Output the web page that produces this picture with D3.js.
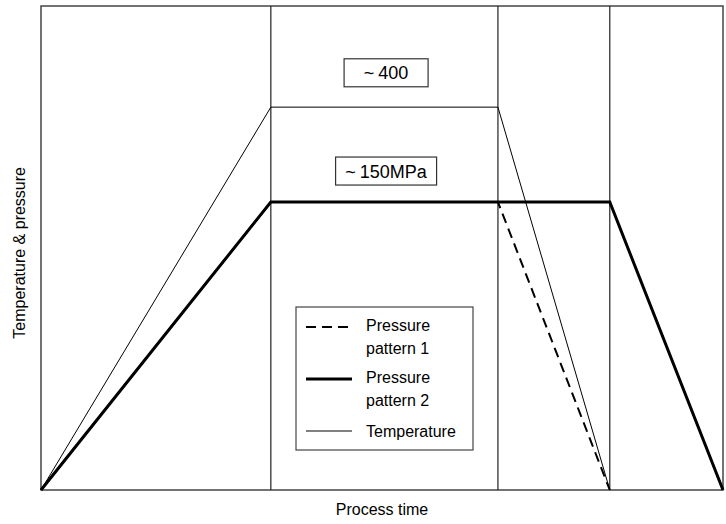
<!DOCTYPE html>
<html>
<head>
<meta charset="utf-8">
<script src="https://cdnjs.cloudflare.com/ajax/libs/d3/7.8.5/d3.min.js"></script>
<style>
  body { margin: 0; background: #fff; }
  text { font-family: Arial, "Liberation Sans", sans-serif; fill: #000; }
</style>
</head>
<body>
<script>
// Process time breakpoints (arbitrary units) and phase boundaries
var phaseBounds = [33.7, 67.0, 83.4];

// Series, as [time, level] (level in % of full height)
var temperature = [[0, 0], [33.7, 79.1], [67.0, 79.1], [83.4, 0]];
var pressure1 = [[0, 0], [33.7, 59.5], [67.0, 59.5], [83.4, 0]];
var pressure2 = [[0, 0], [33.7, 59.5], [83.4, 59.5], [100, 0]];

// Annotation boxes: text, time centre, level centre
var notes = [
    { text: "400", t: 50.6, v: 86.2, w: 84 },
    { text: "150MPa", t: 50.6, v: 65.9, w: 101 }
];

var legendItems = [
    { lines: ["Pressure", "pattern 1"], dash: "10,6", width: 2 },
    { lines: ["Pressure", "pattern 2"], dash: null, width: 3 },
    { lines: ["Temperature"], dash: null, width: 1 }
];

var width = 726, height = 524;
var plotLeft = 41, plotRight = 723, plotTop = 6, plotBottom = 490;

var xScale = d3.scaleLinear().domain([0, 100]).range([plotLeft, plotRight]);
var yScale = d3.scaleLinear().domain([0, 100]).range([plotBottom, plotTop]);

var svg = d3.select("body").append("svg")
    .attr("width", width)
    .attr("height", height);

// frame
svg.append("rect")
    .attr("x", plotLeft).attr("y", plotTop)
    .attr("width", plotRight - plotLeft).attr("height", plotBottom - plotTop)
    .attr("fill", "none").attr("stroke", "#444").attr("stroke-width", 1.5);

// phase lines
svg.selectAll("line.phase").data(phaseBounds).enter()
    .append("line")
    .attr("class", "phase")
    .attr("x1", function (d) { return xScale(d); })
    .attr("x2", function (d) { return xScale(d); })
    .attr("y1", plotTop).attr("y2", plotBottom)
    .attr("stroke", "#222").attr("stroke-width", 1.2);

var line = d3.line()
    .x(function (d) { return xScale(d[0]); })
    .y(function (d) { return yScale(d[1]); });

svg.append("path").datum(temperature)
    .attr("d", line).attr("fill", "none")
    .attr("stroke", "#000").attr("stroke-width", 1);

svg.append("path").datum(pressure2)
    .attr("d", line).attr("fill", "none")
    .attr("stroke", "#000").attr("stroke-width", 3)
    .attr("stroke-linejoin", "miter");

svg.append("path").datum(pressure1)
    .attr("d", line).attr("fill", "none")
    .attr("stroke", "#000").attr("stroke-width", 2)
    .attr("stroke-dasharray", "10,6");

// annotation boxes
var note = svg.selectAll("g.note").data(notes).enter()
    .append("g").attr("class", "note")
    .attr("transform", function (d) {
        return "translate(" + xScale(d.t) + "," + yScale(d.v) + ")";
    });

note.append("rect")
    .attr("x", function (d) { return -d.w / 2; })
    .attr("y", -14)
    .attr("width", function (d) { return d.w; })
    .attr("height", 28)
    .attr("fill", "#fff").attr("stroke", "#333").attr("stroke-width", 1.2);

var noteText = note.append("text")
    .attr("text-anchor", "middle")
    .attr("y", 6.5)
    .style("font-size", "18px");
noteText.append("tspan").text("~");
noteText.append("tspan").attr("dx", 4).text(function (d) { return d.text; });

// legend
var legend = svg.append("g").attr("transform", "translate(296,307)");
legend.append("rect")
    .attr("width", 177).attr("height", 143)
    .attr("fill", "#fff").attr("stroke", "#444").attr("stroke-width", 1.2);

var legendTop = [20, 72, 124];
legendItems.forEach(function (item, i) {
    var y0 = legendTop[i];
    legend.append("line")
        .attr("x1", 10).attr("x2", 56)
        .attr("y1", y0).attr("y2", y0)
        .attr("stroke", "#000")
        .attr("stroke-width", item.width)
        .attr("stroke-dasharray", item.dash);
    item.lines.forEach(function (t, j) {
        legend.append("text")
            .attr("x", 70)
            .attr("y", y0 + 4 + (item.lines.length > 1 ? j * 23 : 2))
            .style("font-size", "16px")
            .text(t);
    });
});

// axis titles
svg.append("text")
    .attr("x", xScale(50)).attr("y", 515)
    .attr("text-anchor", "middle")
    .style("font-size", "16px")
    .text("Process time");

svg.append("text")
    .attr("transform", "translate(25," + yScale(49) + ") rotate(-90)")
    .attr("text-anchor", "middle")
    .style("font-size", "16px")
    .text("Temperature & pressure");
</script>
</body>
</html>
